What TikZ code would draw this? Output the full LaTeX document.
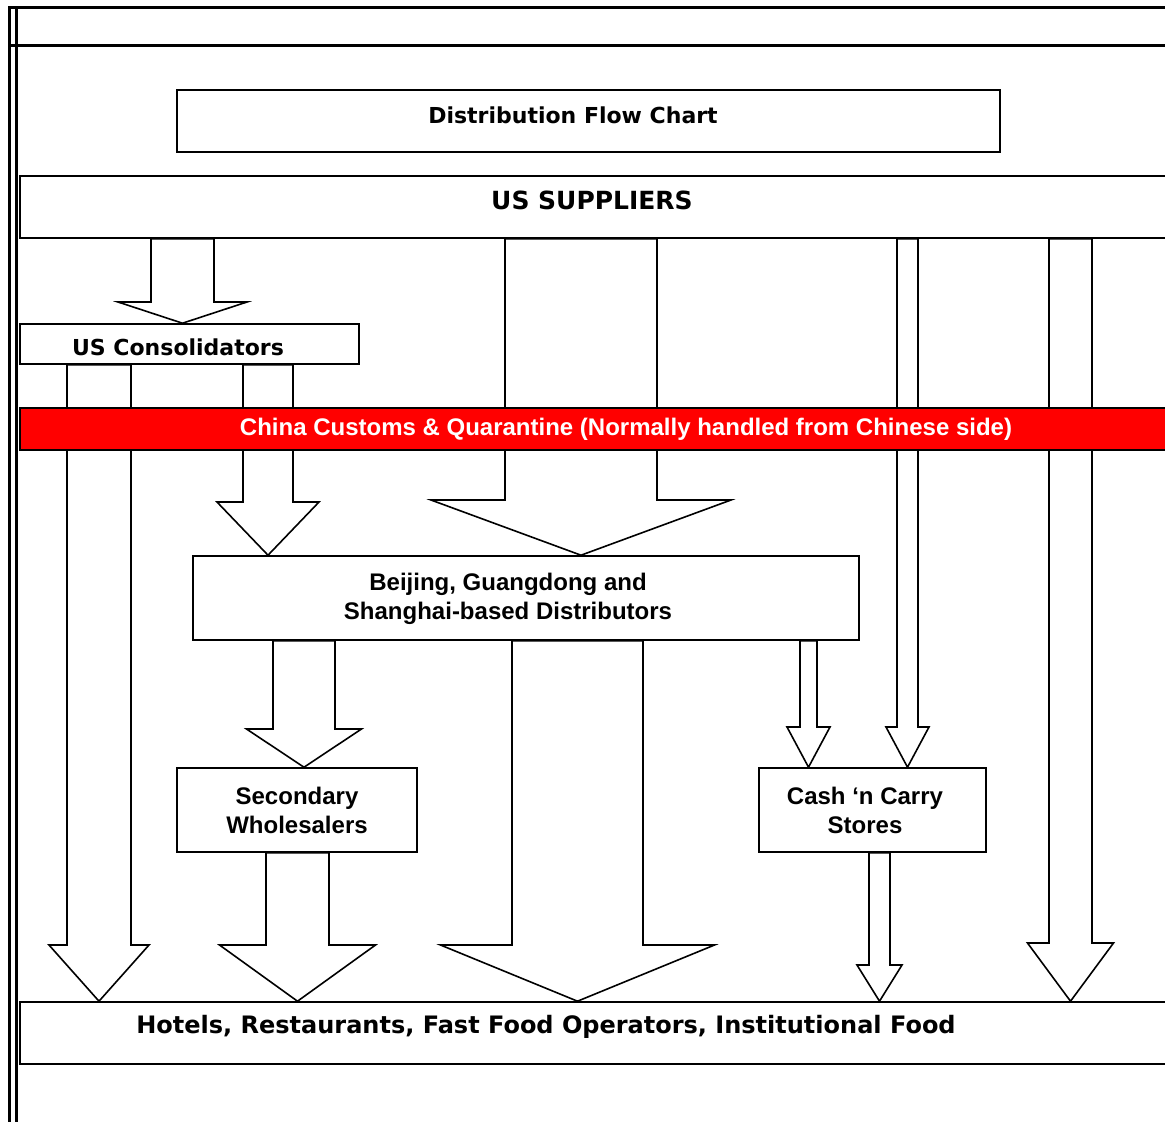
\documentclass[tikz,border=0pt]{standalone}
\usepackage{fontspec}
\setmainfont{Liberation Sans}
\newfontfamily\verdana{DejaVu Sans}
\usetikzlibrary{calc}

\tikzset{
  box/.style={draw, line width=1.6, fill=white, inner sep=0},
  txt/.style={font=\bfseries\fontsize{24}{29}\selectfont, align=center, inner sep=0},
  vtxt/.style={font=\verdana\bfseries\fontsize{22}{26}\selectfont, inner sep=0},
  fat/.style={draw, line width=1.6, fill=white, line join=miter},
  frame/.style={line width=3},
}

% fat block arrow: centre x, shaft half width, head half width, from node, neck y, to node
\newcommand\fatarrow[6]{%
  \draw[fat] let \p1=(#4.south), \p2=(#6.north) in
    ({(#1-#2)*1pt},\y1) -- ({(#1-#2)*1pt},{-#5pt}) -- ({(#1-#3)*1pt},{-#5pt})
    -- ({#1*1pt},\y2) -- ({(#1+#3)*1pt},{-#5pt}) -- ({(#1+#2)*1pt},{-#5pt})
    -- ({(#1+#2)*1pt},\y1) -- cycle;
}

\begin{document}
\begin{tikzpicture}[x=1pt, y=-1pt]
  \useasboundingbox (0,0) rectangle (1165,1122);

  % page frame
  \draw[frame] (9,1125) -- (9,7) -- (1170,7);
  \draw[frame] (16,1125) -- (16,7);
  \draw[frame] (9,45) -- (1170,45);

  % boxes
  \node[box, minimum width=823, minimum height=62] (title) at (588.5,121) {};
  \node[vtxt] (titletext) at (573,115) {Distribution Flow Chart};

  \node[box, minimum width=1160, minimum height=62] (suppliers) at (600,207) {};
  \node[vtxt, font=\verdana\bfseries\fontsize{25}{29}\selectfont] (supplierstext) at (592,200) {US SUPPLIERS};

  \node[box, minimum width=339, minimum height=40] (consol) at (189.5,344) {};
  \node[vtxt] (consoltext) at (178,347) {US Consolidators};

  \node[box, minimum width=666, minimum height=84] (distrib) at (526,598) {};
  \node[txt] (distribtext) at (508,599) {Beijing, Guangdong and\\Shanghai-based Distributors};

  \node[box, minimum width=240, minimum height=84] (second) at (297,810) {};
  \node[txt] (secondtext) at (297,810) {Secondary\\Wholesalers};

  \node[box, minimum width=227, minimum height=84] (cash) at (872.5,810) {};
  \node[txt] (cashtext) at (865,810) {Cash ‘n Carry\\Stores};

  \node[box, minimum width=1160, minimum height=62] (hotels) at (600,1033) {};
  \node[vtxt, font=\verdana\bfseries\fontsize{24}{28}\selectfont] (hotelstext) at (546,1027) {Hotels, Restaurants, Fast Food Operators, Institutional Food};

  % arrows
  \fatarrow{182.5}{31.5}{64.5}{suppliers}{302}{consol}
  \fatarrow{581}{76}{150}{suppliers}{500}{distrib}
  \fatarrow{907.5}{10.5}{21.5}{suppliers}{727}{cash}
  \fatarrow{1070.5}{21.5}{43}{suppliers}{943}{hotels}
  \fatarrow{99}{32}{50}{consol}{945}{hotels}
  \fatarrow{268}{25}{51}{consol}{502}{distrib}
  \fatarrow{304}{31}{57.5}{distrib}{729}{second}
  \fatarrow{808.5}{8.5}{21.5}{distrib}{727}{cash}
  \fatarrow{577.5}{65.5}{137}{distrib}{945}{hotels}
  \fatarrow{297.5}{31.5}{78}{second}{945}{hotels}
  \fatarrow{879.5}{10.5}{22.5}{cash}{965}{hotels}

  % customs bar over the shafts
  \node[box, fill=red, minimum width=1160, minimum height=42] (customs) at (600,429) {};
  \node[txt, text=white] (customstext) at (626,429) {China Customs \& Quarantine (Normally handled from Chinese side)};
\end{tikzpicture}
\end{document}
